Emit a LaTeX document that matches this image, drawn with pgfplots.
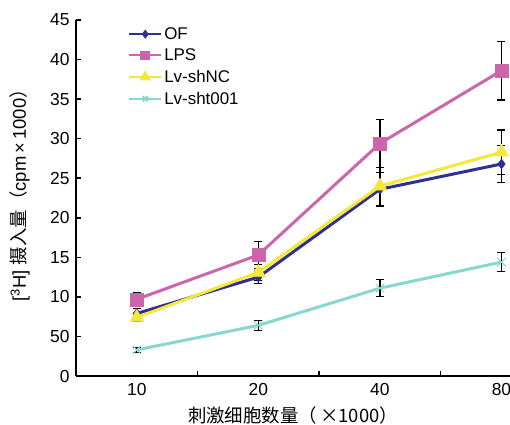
\documentclass[border=0pt]{standalone}
\usepackage{fontspec}
\setmainfont{Liberation Sans}
\newfontfamily\cjk{Noto Sans CJK SC}
\usepackage{pgfplots}
\pgfplotsset{compat=1.18}
\definecolor{cOF}{HTML}{2E3192}
\definecolor{cLPS}{HTML}{CC66AA}
\definecolor{cNC}{HTML}{F5E83A}
\definecolor{cSH}{HTML}{88D8D2}

% x: 0=10, 1=20, 2=40, 3=80 (x1000 cells)
\pgfplotstableread{
x y e
0 7.9 0.6
1 12.5 0.8
2 23.6 2.1
3 26.8 2.3
}\of
\pgfplotstableread{
x y e
0 9.7 0.9
1 15.3 1.7
2 29.4 3.0
3 38.6 3.7
}\lps
\pgfplotstableread{
x y e
0 7.4 0.5
1 13.1 1.0
2 24.0 2.4
3 28.3 2.8
}\shnc
\pgfplotstableread{
x y e
0 3.3 0.3
1 6.4 0.6
2 11.1 1.1
3 14.4 1.2
}\sht

\begin{document}
\begin{tikzpicture}
\useasboundingbox (-76bp,-49bp) rectangle (434bp,376bp);
\begin{axis}[
  scale only axis, width=434bp, height=356bp,
  axis lines=left, axis line style={line width=2bp,-},
  xmin=-0.5, xmax=3.07, ymin=0, ymax=45,
  xtick={0,1,2,3}, xticklabels={10,20,40,80},
  minor xtick={0.5,1.5,2.5},
  ytick={0,5,...,45}, yticklabels={0,50,10,15,20,25,30,35,40,45},
  tick align=inside, major tick length=5bp, minor tick length=5bp,
  major x tick style={draw=none},
  tick style={black, line width=1.5bp},
  /pgf/number format/assume math mode=true,
  tick label style={font=\fontsize{17.5}{17.5}\selectfont},
  xticklabel style={yshift=-4bp},
  yticklabel style={xshift=-3bp},
  xlabel={\cjk 刺激细胞数量（\,×1000）},
  ylabel={[\textsuperscript{3}H] {\cjk 摄入量（}cpm\,×\,1000{\cjk ）}},
  label style={font=\fontsize{18.5}{18.5}\selectfont},
  xlabel style={at={(axis description cs:0.5,-0.11)}, anchor=center},
  ylabel style={at={(axis description cs:-0.129,0.52)}, anchor=center},
  legend style={at={(rel axis cs:0.12,0.985)}, anchor=north west, draw=none, fill=none,
    font=\fontsize{17}{17}\selectfont, row sep=4bp, inner sep=0pt},
  legend cell align=left,
  legend image code/.code={\draw[line width=2bp, mark repeat=2, mark phase=2, mark options={scale=0.6}] plot coordinates {(0bp,0bp)(16bp,0bp)(32bp,0bp)};},
  error bars/y dir=both, error bars/y explicit,
  error bars/error bar style={black, line width=1.2bp},
  error bars/error mark options={rotate=90, mark size=4bp, black, line width=1.2bp},
]
\addplot[cOF, line width=3bp, mark=diamond*, mark size=5bp, mark options={solid, line width=0.5bp}]
  table[x=x, y=y, y error=e] {\of};
\addlegendentry{OF}
\addplot[cLPS, line width=3bp, mark=square*, mark size=6.5bp, mark options={solid, line width=0.5bp}]
  table[x=x, y=y, y error=e] {\lps};
\addlegendentry{LPS}
\addplot[cNC, line width=3bp, mark=triangle*, mark size=8bp, mark options={solid, line width=0.5bp}]
  table[x=x, y=y, y error=e] {\shnc};
\addlegendentry{Lv-shNC}
\addplot[cSH, line width=3bp, mark=x, mark size=6bp, mark options={solid, line width=1bp}]
  table[x=x, y=y, y error=e] {\sht};
\addlegendentry{Lv-sht001}
\end{axis}
\end{tikzpicture}
\end{document}
